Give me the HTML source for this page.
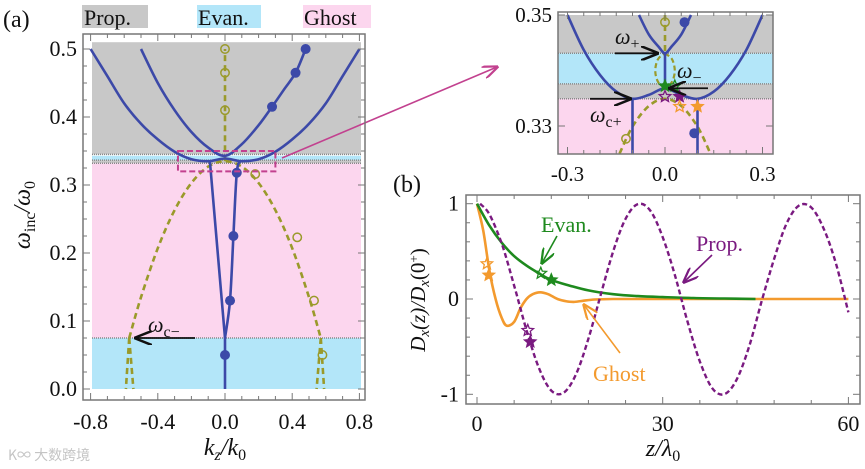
<!DOCTYPE html>
<html><head><meta charset="utf-8"><style>
body{margin:0;background:#fff}
svg{display:block}
text{font-family:"Liberation Serif","DejaVu Serif",serif;fill:#111}
</style></head><body>
<svg id="fig" width="865" height="469" viewBox="0 0 865 469" xmlns="http://www.w3.org/2000/svg">
<defs>
<marker id="ahk" markerWidth="10" markerHeight="8" refX="9" refY="4" orient="auto"><path d="M0,0 L10,4 L0,8" fill="none" stroke="#111" stroke-width="1.4"/></marker>
<marker id="ahm" markerWidth="10" markerHeight="8" refX="9" refY="4" orient="auto"><path d="M0,0 L10,4 L0,8" fill="none" stroke="#c2418f" stroke-width="1.4"/></marker>
<marker id="ahg" markerWidth="10" markerHeight="8" refX="9" refY="4" orient="auto"><path d="M0,0 L10,4 L0,8" fill="none" stroke="#1e8a1e" stroke-width="1.4"/></marker>
<marker id="ahp" markerWidth="10" markerHeight="8" refX="9" refY="4" orient="auto"><path d="M0,0 L10,4 L0,8" fill="none" stroke="#7a1a80" stroke-width="1.4"/></marker>
<marker id="aho" markerWidth="10" markerHeight="8" refX="9" refY="4" orient="auto"><path d="M0,0 L10,4 L0,8" fill="none" stroke="#f39a2e" stroke-width="1.4"/></marker>
</defs>
<g id="ga"></g>
<g id="gi"></g>
<g id="gb"></g>

<text x="3" y="27" font-size="24">(a)</text>
<rect x="82" y="5" width="66" height="23" fill="#c8c8c8"/>
<text x="84" y="25" font-size="22">Prop.</text>
<rect x="197" y="5" width="64" height="23" fill="#b3e6f9"/>
<text x="198" y="25" font-size="22">Evan.</text>
<rect x="303" y="5" width="68" height="23" fill="#fcd6ee"/>
<text x="304" y="25" font-size="22">Ghost</text>

<text transform="translate(30,215) rotate(-90)" text-anchor="middle" font-size="24" font-style="italic">ω<tspan font-style="normal" font-size="16" dy="5">inc</tspan><tspan dy="-5">/ω</tspan><tspan font-style="normal" font-size="16" dy="5">0</tspan></text>
<text x="225" y="455" text-anchor="middle" font-size="24" font-style="italic">k<tspan font-size="16" dy="5">z</tspan><tspan dy="-5">/k</tspan><tspan font-style="normal" font-size="16" dy="5">0</tspan></text>
<text x="393" y="192" font-size="24">(b)</text>
<text transform="translate(425,300) rotate(-90)" text-anchor="middle" font-size="21" font-style="italic">D<tspan font-size="15" dy="4">x</tspan><tspan dy="-4">(z)/D</tspan><tspan font-size="15" dy="4">x</tspan><tspan dy="-4" font-style="normal">(0</tspan><tspan font-style="normal" font-size="13" dy="-7">+</tspan><tspan font-style="normal" dy="7">)</tspan></text>
<text x="663" y="456" text-anchor="middle" font-size="24" font-style="italic">z/λ<tspan font-style="normal" font-size="16" dy="5">0</tspan></text>
<text x="8" y="460" font-size="14" style="fill:#c4c4c4;font-family:'Noto Sans CJK SC',sans-serif">K∞ 大数跨境</text>
</svg>
<script>
const NS='http://www.w3.org/2000/svg';
function el(parent,tag,attrs,txt){const e=document.createElementNS(NS,tag);for(const k in attrs)e.setAttribute(k,attrs[k]);if(txt!==undefined)e.textContent=txt;parent.appendChild(e);return e;}
function smooth(p){let d='M'+p[0][0].toFixed(1)+','+p[0][1].toFixed(1);for(let i=0;i<p.length-1;i++){const p0=p[i-1]||p[i],p1=p[i],p2=p[i+1],p3=p[i+2]||p2;const c1=[p1[0]+(p2[0]-p0[0])/6,p1[1]+(p2[1]-p0[1])/6],c2=[p2[0]-(p3[0]-p1[0])/6,p2[1]-(p3[1]-p1[1])/6];d+=' C'+c1.map(v=>v.toFixed(1))+' '+c2.map(v=>v.toFixed(1))+' '+p2.map(v=>v.toFixed(1));}return d;}

/* ---------- panel (a) data ---------- */
const xTicksA=[-0.8,-0.4,0.0,0.4,0.8];
const yTicksA=[0.0,0.1,0.2,0.3,0.4,0.5];
const bandsA=[[0.345,0.51,'#c8c8c8'],[0.3365,0.343,'#b3e6f9'],[0.332,0.3365,'#c8c8c8'],[0.075,0.332,'#fcd6ee'],[0,0.075,'#b3e6f9']];
const blueOuter=[[-0.8,0.5],[-0.7,0.46],[-0.6,0.42],[-0.5,0.39],[-0.4,0.367],[-0.3,0.349],[-0.2,0.338],[-0.1,0.335],[0,0.339],[0.1,0.335],[0.2,0.338],[0.3,0.349],[0.4,0.367],[0.5,0.39],[0.6,0.42],[0.7,0.46],[0.8,0.5]];
const blueInner=[[-0.5,0.5],[-0.4,0.45],[-0.3,0.41],[-0.2,0.378],[-0.1,0.355],[0,0.343],[0.1,0.36],[0.2,0.388],[0.28,0.415],[0.35,0.44],[0.42,0.465],[0.48,0.5]];
const blueDotsUpper=[[0.28,0.415],[0.42,0.465],[0.48,0.5]];
const blueVRight=[[0,0.075],[0.03,0.13],[0.05,0.225],[0.07,0.318],[0.09,0.335]];
const blueVLeft=[[0,0.075],[-0.09,0.335]];
const blueStem=[[0,0],[0,0.075]];
const blueDotsLower=[[0,0.05],[0.03,0.13],[0.05,0.225],[0.07,0.318]];
const oliveArc=[[-0.57,0.075],[-0.5,0.135],[-0.4,0.207],[-0.3,0.263],[-0.2,0.303],[-0.1,0.327],[0,0.335],[0.1,0.327],[0.2,0.303],[0.3,0.263],[0.4,0.207],[0.5,0.135],[0.57,0.075]];
const oliveLegs=[[[-0.57,0.075],[-0.59,0]],[[-0.57,0.075],[-0.545,0]],[[0.57,0.075],[0.59,0]],[[0.57,0.075],[0.545,0]]];
const oliveStem=[[0,0.335],[0,0.5]];
const oliveCircles=[[0,0.5],[0,0.465],[0,0.41],[0.18,0.316],[0.43,0.223],[0.53,0.13],[0.58,0.05]];

const xa=k=>225+k*168, ya=w=>389-w*680;
const ga=document.getElementById('ga');
bandsA.forEach((b,i)=>{const r=el(ga,'rect',{x:92,y:ya(b[1]),width:269,height:ya(b[0])-ya(b[1]),fill:b[2]});

});
[0.345,0.3365,0.332,0.075].forEach(w=>{const l=el(ga,'line',{x1:92,x2:361,y1:ya(w),y2:ya(w),stroke:'#888','stroke-width':1.5,'stroke-dasharray':'1 1'});

});
function drawSeries(g,fx,fy,pts,attrs,name){const p=el(g,'path',Object.assign({d:smooth(pts.map(q=>[fx(q[0]),fy(q[1])])),fill:'none'},attrs));

return p;}
const blueS={stroke:'#3c49a8','stroke-width':2.6};
const oliveS={stroke:'#9a9a2a','stroke-width':2.6,'stroke-dasharray':'6 4'};
drawSeries(ga,xa,ya,oliveArc,oliveS,'ghost-branch-arc');
oliveLegs.forEach(l=>drawSeries(ga,xa,ya,l,oliveS,'ghost-branch-leg'));
drawSeries(ga,xa,ya,oliveStem,oliveS,'ghost-branch-stem');
drawSeries(ga,xa,ya,blueOuter,blueS,'band-outer');
drawSeries(ga,xa,ya,blueInner,blueS,'band-inner');
drawSeries(ga,xa,ya,blueVRight,blueS,'band-v-right');
drawSeries(ga,xa,ya,blueVLeft,blueS,'band-v-left');
drawSeries(ga,xa,ya,blueStem,blueS,'band-stem');
blueDotsUpper.concat(blueDotsLower).forEach(q=>{const c=el(ga,'circle',{cx:xa(q[0]),cy:ya(q[1]),r:5,fill:'#3c49a8'});

});
oliveCircles.forEach(q=>{const c=el(ga,'circle',{cx:xa(q[0]),cy:ya(q[1]),r:4.2,fill:'none',stroke:'#9a9a2a','stroke-width':1.5});

});
const zb=el(ga,'rect',{x:xa(-0.28),y:ya(0.35),width:xa(0.3)-xa(-0.28),height:ya(0.32)-ya(0.35),fill:'none',stroke:'#c2418f','stroke-width':2,'stroke-dasharray':'6 3'});


const zl=el(ga,'line',{x1:282,y1:158,x2:497,y2:67,stroke:'#c2418f','stroke-width':1.6,'marker-end':'url(#ahm)'});


const ac=el(ga,'line',{x1:195,y1:ya(0.075),x2:136,y2:ya(0.075),stroke:'#111','stroke-width':1.8,'marker-end':'url(#ahk)'});


const tc=el(ga,'text',{x:148,y:332,'font-size':22,'font-style':'italic'},'ω');


el(tc,'tspan',{'font-size':16,'font-style':'normal',dy:5},'c−');
function frame(g,x0,y0,x1,y1,name){const f=el(g,'rect',{x:x0,y:y0,width:x1-x0,height:y1-y0,fill:'none',stroke:'#777','stroke-width':1.5});

}
frame(ga,83,34,365,400,'frame-a');
for(let v=-0.8;v<=0.801;v+=0.1){const big=Math.abs(Math.round(v*10))%4===0;const x=xa(v);el(ga,'line',{x1:x,x2:x,y1:400,y2:400-(big?7:4),stroke:'#777'});el(ga,'line',{x1:x,x2:x,y1:34,y2:34+(big?7:4),stroke:'#777'});}
for(let v=0;v<=0.5001;v+=0.025){const big=Math.abs(v*10-Math.round(v*10))<1e-6;const y=ya(v);el(ga,'line',{x1:83,x2:83+(big?7:4),y1:y,y2:y,stroke:'#777'});el(ga,'line',{x1:365,x2:365-(big?7:4),y1:y,y2:y,stroke:'#777'});}
xTicksA.forEach(v=>{const t=el(ga,'text',{x:xa(v),y:429,'text-anchor':'middle','font-size':22},v.toFixed(1));

});
yTicksA.forEach(v=>{const t=el(ga,'text',{x:77,y:ya(v)+7,'text-anchor':'end','font-size':22},v.toFixed(1));

});

/* ---------- inset ---------- */
const xTicksI=[-0.3,0.0,0.3];
const yTicksI=[0.33,0.35];
const bandsI=[[0.3431,0.35,'#c8c8c8'],[0.3376,0.3431,'#b3e6f9'],[0.3349,0.3376,'#c8c8c8'],[0.325,0.3349,'#fcd6ee']];
const inOuter=[[-0.3,0.35],[-0.25,0.3437],[-0.2,0.3392],[-0.15,0.3362],[-0.1,0.3349],[-0.05,0.3356],[0,0.3368],[0.05,0.3356],[0.1,0.3349],[0.15,0.3362],[0.2,0.3392],[0.25,0.3437],[0.3,0.35]];
const inInner=[[-0.08,0.35],[-0.05,0.3465],[-0.02,0.3443],[0,0.3431],[0.02,0.3443],[0.05,0.3465],[0.08,0.35]];
const inStem=[[0,0.3431],[0,0.3368]];
const inLegs=[[[-0.1,0.3349],[-0.1,0.325]],[[0.1,0.3349],[0.1,0.325]]];
const inBlueDots=[[0.06,0.3487],[0.09,0.3287]];
const inOliveArc=[[-0.14,0.3250],[-0.1,0.3299],[-0.05,0.3336],[0,0.3349],[0.05,0.3336],[0.1,0.3299],[0.14,0.3250]];
const inOliveStem=[[0,0.35],[0,0.3431]];
const inOliveLoop=[[0,0.3431],[0.022,0.3420],[0.03,0.3398],[0.02,0.3378],[0,0.3372],[-0.02,0.3378],[-0.03,0.3398],[-0.022,0.3420],[0,0.3431]];
const inOliveCircles=[[0,0.3487],[-0.12,0.3277]];
const starsI=[[0,0.3372,'#1e8a1e',1],[0.03,0.3372,'#1e8a1e',0],[0,0.3353,'#7a1a80',0],[0.045,0.3353,'#7a1a80',1],[0.045,0.3335,'#f39a2e',0],[0.1,0.3335,'#f39a2e',1]];
const xi=k=>665+k*325, yi=w=>15+(0.35-w)*5550;
const gi=document.getElementById('gi');
bandsI.forEach(b=>{const r=el(gi,'rect',{x:558,y:Math.max(12,yi(b[1])),width:215,height:Math.min(154,yi(b[0]))-Math.max(12,yi(b[1])),fill:b[2]});

});
[0.3431,0.3376,0.3349].forEach(w=>el(gi,'line',{x1:558,x2:773,y1:yi(w),y2:yi(w),stroke:'#888','stroke-width':1.5,'stroke-dasharray':'1 1'}));
drawSeries(gi,xi,yi,inOliveArc,oliveS,'inset-ghost-arc');
drawSeries(gi,xi,yi,inOliveStem,oliveS,'inset-ghost-stem');
drawSeries(gi,xi,yi,inOliveLoop,{stroke:'#9a9a2a','stroke-width':2.2,'stroke-dasharray':'5 3'},'inset-ghost-loop');
drawSeries(gi,xi,yi,inOuter,blueS,'inset-band-outer');
drawSeries(gi,xi,yi,inInner,blueS,'inset-band-inner');
drawSeries(gi,xi,yi,inStem,blueS,'inset-band-stem');
inLegs.forEach(l=>drawSeries(gi,xi,yi,l,blueS,'inset-band-leg'));
inBlueDots.forEach(q=>{const c=el(gi,'circle',{cx:xi(q[0]),cy:yi(q[1]),r:5,fill:'#3c49a8'});

});
inOliveCircles.forEach(q=>{const c=el(gi,'circle',{cx:xi(q[0]),cy:yi(q[1]),r:4.2,fill:'none',stroke:'#9a9a2a','stroke-width':1.5});

});
function star(g,x,y,col,filled,r){let d='';for(let i=0;i<10;i++){const a=-Math.PI/2+i*Math.PI/5,rr=i%2?r*0.45:r;d+=(i?'L':'M')+(x+rr*Math.cos(a)).toFixed(1)+','+(y+rr*Math.sin(a)).toFixed(1);}
const s=el(g,'path',{d:d+'Z',fill:filled?col:'none',stroke:col,'stroke-width':1.3});

}
starsI.forEach(s=>star(gi,xi(s[0]),yi(s[1]),s[2],s[3],6));
frame(gi,558,12,773,154,'frame-inset');
for(let v=-0.3;v<=0.3001;v+=0.05){const big=Math.abs(Math.round(v*100))%30===0;const x=xi(v);el(gi,'line',{x1:x,x2:x,y1:154,y2:154-(big?7:4),stroke:'#777'});el(gi,'line',{x1:x,x2:x,y1:12,y2:12+(big?7:4),stroke:'#777'});}
[0.33,0.35].forEach(v=>{el(gi,'line',{x1:558,x2:565,y1:yi(v),y2:yi(v),stroke:'#777'});el(gi,'line',{x1:773,x2:766,y1:yi(v),y2:yi(v),stroke:'#777'});});
xTicksI.forEach(v=>{const t=el(gi,'text',{x:xi(v),y:181,'text-anchor':'middle','font-size':21},v.toFixed(1));

});
yTicksI.forEach(v=>{const t=el(gi,'text',{x:552,y:yi(v)+7,'text-anchor':'end','font-size':21},v.toFixed(2));

});
function arrowLbl(g,x1,y1,x2,y2,lx,ly,sub,name){const a=el(g,'line',{x1:x1,y1:y1,x2:x2,y2:y2,stroke:'#111','stroke-width':1.8,'marker-end':'url(#ahk)'});


const t=el(g,'text',{x:lx,y:ly,'font-size':22,'font-style':'italic'},'ω');


el(t,'tspan',{'font-size':16,'font-style':'normal',dy:5},sub);}
arrowLbl(gi,615,yi(0.3431),657,yi(0.3431),615,44,'+','omega-plus');
arrowLbl(gi,708,yi(0.3368),670,yi(0.3368),677,78,'−','omega-minus');
arrowLbl(gi,590,yi(0.3349),630,yi(0.3349),590,122,'c+','omega-c-plus');

/* ---------- panel (b) data ---------- */
const xTicksB=[0,30,60];
const yTicksB=[-1,0,1];
const propZ=[0.5,2,4,6,8,10,12,14,16,18,20,22,24,26,28,30,32,34,36,38,40,42,44,46,48,50,52,54,56,58,60];
const propV=[1,0.889,0.58,0.142,-0.327,-0.723,-0.961,-0.983,-0.79,-0.417,0.047,0.5,0.842,0.996,0.928,0.649,0.243,-0.236,-0.655,-0.936,-0.998,-0.838,-0.49,-0.02,0.42,0.79,0.98,0.96,0.74,0.37,-0.14];
const evanZ=[0,2,4,6,8,10,12,15,18,22,26,30,35,40,45];
const evanV=[1,0.77,0.59,0.45,0.35,0.27,0.2,0.14,0.09,0.05,0.03,0.02,0.01,0.005,0];
const ghostZ=[0,1,2,3,4,4.8,6,7,8,9,10.2,11.5,13,14.5,15.6,17,19,22,30,45,60];
const ghostV=[1,0.72,0.3,0.0,-0.2,-0.28,-0.24,-0.1,0.0,0.05,0.07,0.05,0.0,-0.025,-0.03,-0.02,-0.005,0,0,0,0];
const starsB=[[1.6,0.37,'#f39a2e',0],[1.9,0.25,'#f39a2e',1],[8.2,-0.33,'#7a1a80',0],[8.6,-0.45,'#7a1a80',1],[10.3,0.27,'#1e8a1e',0],[12,0.2,'#1e8a1e',1]];
const xb=z=>477+z*6.19, yb=v=>299-v*95.3;
const gb=document.getElementById('gb');
frame(gb,466,195,860,404,'frame-b');
for(let v=0;v<=60;v+=6){const big=v%30===0;const x=xb(v);el(gb,'line',{x1:x,x2:x,y1:404,y2:404-(big?7:4),stroke:'#777'});el(gb,'line',{x1:x,x2:x,y1:195,y2:195+(big?7:4),stroke:'#777'});}
for(let v=-1;v<=1.001;v+=0.2){const big=Math.abs(v-Math.round(v))<1e-6;const y=yb(v);el(gb,'line',{x1:466,x2:466+(big?7:4),y1:y,y2:y,stroke:'#777'});el(gb,'line',{x1:860,x2:860-(big?7:4),y1:y,y2:y,stroke:'#777'});}
xTicksB.forEach(v=>{const t=el(gb,'text',{x:xb(v),y:431,'text-anchor':'middle','font-size':22},String(v));

});
yTicksB.forEach(v=>{const t=el(gb,'text',{x:459,y:yb(v)+7,'text-anchor':'end','font-size':22},String(v));

});
const zip=(a,b)=>a.map((v,i)=>[v,b[i]]);
drawSeries(gb,xb,yb,zip(ghostZ,ghostV),{stroke:'#f39a2e','stroke-width':2.6},'ghost-series');
drawSeries(gb,xb,yb,zip(evanZ,evanV),{stroke:'#1e8a1e','stroke-width':2.6},'evan-series');
drawSeries(gb,xb,yb,zip(propZ,propV),{stroke:'#7a1a80','stroke-width':2.4,'stroke-dasharray':'5 3'},'prop-series');
starsB.forEach(s=>star(gb,xb(s[0]),yb(s[1]),s[2],s[3],6));
function lbl(g,x,y,txt,col,name){const t=el(g,'text',{x:x,y:y,'font-size':22,style:'fill:'+col},txt);

}
lbl(gb,541,232,'Evan.','#1e8a1e','evan-label');
lbl(gb,696,251,'Prop.','#7a1a80','prop-label');
lbl(gb,593,381,'Ghost','#f39a2e','ghost-label');
[[557,236,542,263,'#ahg','#1e8a1e','evan-arrow'],[712,255,684,282,'#ahp','#7a1a80','prop-arrow'],[620,353,584,305,'#aho','#f39a2e','ghost-arrow']].forEach(a=>{const l=el(gb,'line',{x1:a[0],y1:a[1],x2:a[2],y2:a[3],stroke:a[5],'stroke-width':1.6,'marker-end':'url('+a[4]+')'});

});
</script>
</body></html>
